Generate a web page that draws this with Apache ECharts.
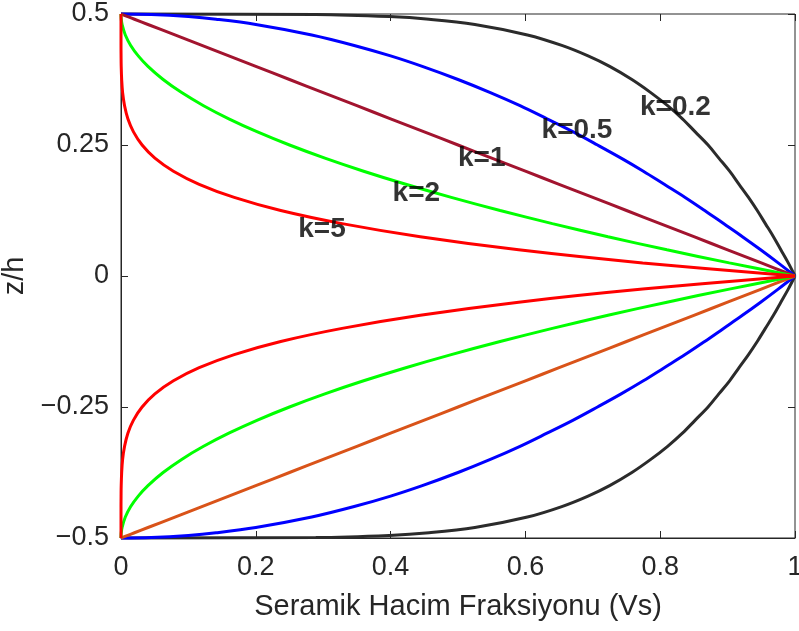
<!DOCTYPE html>
<html>
<head>
<meta charset="utf-8">
<title>Seramik Hacim Fraksiyonu</title>
<script src="https://cdn.jsdelivr.net/npm/echarts@6/dist/echarts.min.js"></script>
<style>
  html, body { margin: 0; padding: 0; background: #ffffff; }
  #chart { width: 799px; height: 631px; }
</style>
</head>
<body>
<div id="chart"></div>
<script>
// Thickness coordinate z/h for the upper and lower halves of the plate
const zTop = [0.5, 0.499, 0.495, 0.49, 0.48, 0.46, 0.44, 0.42, 0.4, 0.375, 0.35, 0.325, 0.3,
  0.275, 0.25, 0.225, 0.2, 0.175, 0.15, 0.125, 0.1, 0.075, 0.05, 0.025, 0];
const zBottom = [-0.5, -0.499, -0.495, -0.49, -0.48, -0.46, -0.44, -0.42, -0.4, -0.375, -0.35, -0.325, -0.3,
  -0.275, -0.25, -0.225, -0.2, -0.175, -0.15, -0.125, -0.1, -0.075, -0.05, -0.025, 0];

// Ceramic volume fraction Vs at those levels, one list per power-law index k
const vsK02 = [0, 0.289, 0.398, 0.457, 0.525, 0.603, 0.654, 0.693, 0.725, 0.758, 0.786, 0.811, 0.833,
  0.852, 0.871, 0.887, 0.903, 0.917, 0.931, 0.944, 0.956, 0.968, 0.979, 0.990, 1];
const vsK05 = [0, 0.045, 0.1, 0.141, 0.2, 0.283, 0.346, 0.4, 0.447, 0.5, 0.548, 0.592, 0.632,
  0.671, 0.707, 0.742, 0.775, 0.806, 0.837, 0.866, 0.894, 0.922, 0.949, 0.975, 1];
const vsK1 = [0, 0.002, 0.01, 0.02, 0.04, 0.08, 0.12, 0.16, 0.2, 0.25, 0.3, 0.35, 0.4,
  0.45, 0.5, 0.55, 0.6, 0.65, 0.7, 0.75, 0.8, 0.85, 0.9, 0.95, 1];
const vsK2 = [0, 0, 0.0001, 0.0004, 0.0016, 0.0064, 0.0144, 0.0256, 0.04, 0.0625, 0.09, 0.1225, 0.16,
  0.2025, 0.25, 0.3025, 0.36, 0.4225, 0.49, 0.5625, 0.64, 0.7225, 0.81, 0.9025, 1];
const vsK5 = [0, 0, 0, 0, 0, 0, 0, 0.0001, 0.0003, 0.001, 0.0024, 0.0053, 0.0102,
  0.0185, 0.0313, 0.0503, 0.0778, 0.116, 0.168, 0.237, 0.328, 0.444, 0.59, 0.774, 1];

const curveNames = ['k=0.2', 'k=0.5', 'k=1', 'k=2', 'k=5'];
const xTicks = [0, 0.2, 0.4, 0.6, 0.8, 1];
const yTicks = [-0.5, -0.25, 0, 0.25, 0.5];

const curves = [vsK02, vsK05, vsK1, vsK2, vsK5];
const topColors = ['#2b2b2b', '#0000ff', '#a2142f', '#00ff00', '#ff0000'];
const bottomColors = ['#2b2b2b', '#0000ff', '#d95319', '#00ff00', '#ff0000'];
// where each k label sits, in data coordinates (left edge, vertical middle)
const labelAnchors = [[0.77, 0.322], [0.624, 0.279], [0.5, 0.225], [0.403, 0.158], [0.263, 0.09]];

const axisColor = '#262626';
const font = '"Liberation Sans", Arial, Helvetica, sans-serif';
const fmt = v => String(+v.toFixed(4)).replace('-', '\u2212');

function pairs(vs, zs) { return vs.map((v, i) => [v, zs[i]]); }

function lineSeries(name, data, color) {
  return {
    type: 'line', name: name, data: data,
    showSymbol: false, symbol: 'none', clip: false,
    smooth: 0.35,
    lineStyle: { color: color, width: 3 },
    emphasis: { disabled: true }, silent: true, z: 3
  };
}

const series = [];
curves.forEach((vs, i) => {
  series.push(lineSeries(curveNames[i] + ' (üst)', pairs(vs, zTop), topColors[i]));
  series.push(lineSeries(curveNames[i] + ' (alt)', pairs(vs, zBottom), bottomColors[i]));
});
series.push({
  type: 'scatter', symbolSize: 0, silent: true, z: 10,
  data: curveNames.map((n, i) => ({ value: labelAnchors[i], name: n })),
  label: {
    show: true, position: 'right', distance: 0,
    formatter: p => p.name,
    color: '#000', fontFamily: font, fontWeight: 'bold', fontSize: 28
  }
});

const tickLine = { show: true, inside: true, length: 7, lineStyle: { color: axisColor, width: 1 } };

const option = {
  animation: false,
  backgroundColor: '#ffffff',
  grid: {
    left: 121, right: 4, top: 14, bottom: 93,
    containLabel: false, outerBoundsMode: 'none',
    show: true, borderColor: axisColor, borderWidth: 1, backgroundColor: 'transparent'
  },
  xAxis: [{
    type: 'value', min: xTicks[0], max: xTicks[xTicks.length - 1], interval: 0.2,
    name: 'Seramik Hacim Fraksiyonu (Vs)', nameLocation: 'middle', nameGap: 54,
    nameTextStyle: { fontFamily: font, fontSize: 29, color: axisColor },
    axisLine: { show: true, onZero: false, lineStyle: { color: axisColor } },
    axisTick: tickLine,
    axisLabel: { margin: 16, fontFamily: font, fontSize: 27, color: axisColor, formatter: fmt },
    splitLine: { show: false }
  }, {
    type: 'value', position: 'top', min: xTicks[0], max: xTicks[xTicks.length - 1], interval: 0.2,
    axisLine: { show: false, onZero: false }, axisTick: tickLine, axisLabel: { show: false }, splitLine: { show: false }
  }],
  yAxis: [{
    type: 'value', min: yTicks[0], max: yTicks[yTicks.length - 1], interval: 0.25,
    name: 'z/h', nameLocation: 'middle', nameGap: 85,
    nameTextStyle: { fontFamily: font, fontSize: 29, color: axisColor },
    axisLine: { show: true, onZero: false, lineStyle: { color: axisColor } },
    axisTick: tickLine,
    axisLabel: { margin: 12, fontFamily: font, fontSize: 27, color: axisColor, formatter: fmt },
    splitLine: { show: false }
  }, {
    type: 'value', position: 'right', min: yTicks[0], max: yTicks[yTicks.length - 1], interval: 0.25,
    axisLine: { show: false, onZero: false }, axisTick: tickLine, axisLabel: { show: false }, splitLine: { show: false }
  }],
  series: series
};

const chart = echarts.init(document.getElementById('chart'), null, { renderer: 'canvas' });
chart.setOption(option);
</script>
</body>
</html>
